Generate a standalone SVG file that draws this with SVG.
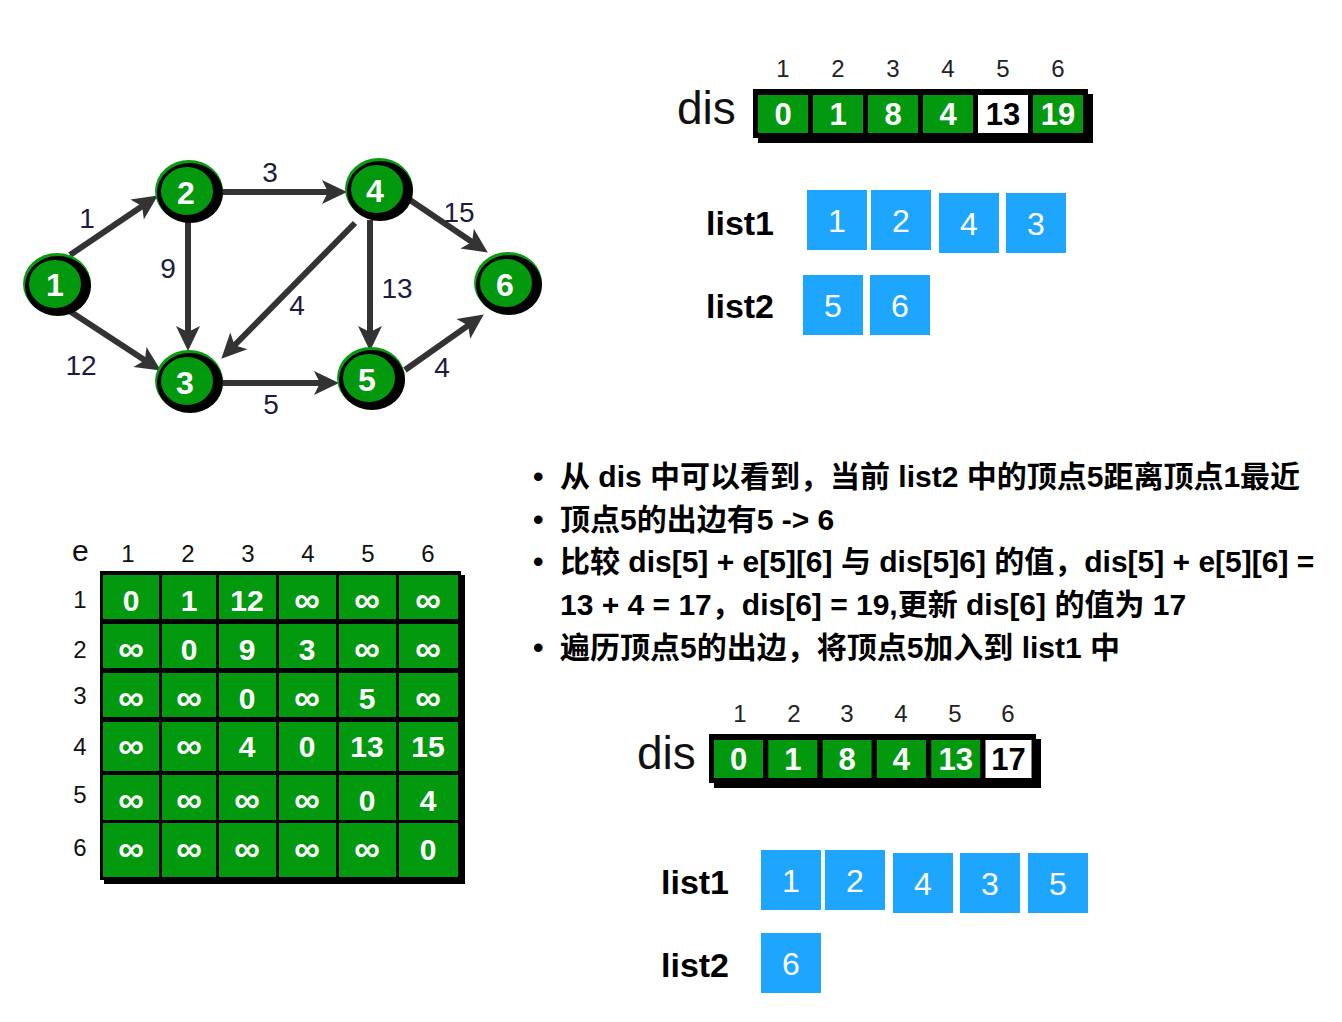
<svg xmlns="http://www.w3.org/2000/svg" width="1342" height="1022" viewBox="0 0 1342 1022">
<defs>
<marker id="arr" markerUnits="userSpaceOnUse" viewBox="-2 -14 30 28" markerWidth="30" markerHeight="28" refX="10" refY="0" orient="auto">
<path d="M0,-12 L25,0 L0,12 L6,0 z" fill="#333"/>
</marker>
</defs>
<style>
text{font-family:"Liberation Sans","Noto Sans CJK SC",sans-serif}
.edge{stroke:#333;stroke-width:6;fill:none;marker-end:url(#arr)}
.halo{fill:#0a9a10}
.ring{fill:#000}
.core{fill:#03990f}
.nl{fill:#fff;font-weight:bold;font-size:32px;text-anchor:middle}
.el{fill:#1c1c40;font-size:28px;text-anchor:middle}
.g{fill:#03990f}
.w{fill:#fff}
.cv{fill:#fff;font-weight:bold;font-size:31px;text-anchor:middle}
.cb{fill:#000;font-weight:bold;font-size:31px;text-anchor:middle}
.idx{fill:#222;font-size:24px;text-anchor:middle}
.dis{fill:#111;font-size:46px}
.lbl{fill:#000;font-weight:bold;font-size:34px}
.bx{fill:#1ea5fd}
.bn{fill:#fff;font-size:32px;text-anchor:middle}
.mv{fill:#fff;font-weight:bold;font-size:30px;text-anchor:middle}
.mi{fill:#fff;font-weight:bold;font-size:36px;text-anchor:middle}
.mh{fill:#111;font-size:24px;text-anchor:middle}
.tx{fill:#000;font-weight:bold;font-size:30px}
</style>

<g id="connectors">
<line class="edge" x1="70" y1="255" x2="145.4" y2="203.9"/>
<line class="edge" x1="68" y1="310" x2="148.3" y2="362.4"/>
<line class="edge" x1="188" y1="222" x2="188" y2="336"/>
<line class="edge" x1="223" y1="192" x2="332" y2="192"/>
<line class="edge" x1="355" y1="223" x2="231.8" y2="348"/>
<line class="edge" x1="223" y1="383" x2="324" y2="383"/>
<line class="edge" x1="370" y1="220" x2="370" y2="336"/>
<line class="edge" x1="410" y1="200" x2="475.4" y2="244.2"/>
<line class="edge" x1="405" y1="370" x2="471.5" y2="323.1"/>
<text class="el" x="87" y="228">1</text>
<text class="el" x="81" y="375">12</text>
<text class="el" x="168" y="278">9</text>
<text class="el" x="270" y="182">3</text>
<text class="el" x="297" y="315">4</text>
<text class="el" x="271" y="414">5</text>
<text class="el" x="397" y="298">13</text>
<text class="el" x="459" y="222">15</text>
<text class="el" x="442" y="377">4</text>
</g>

<g id="node1">
<ellipse class="halo" cx="57" cy="284" rx="34" ry="31"/>
<ellipse class="ring" cx="58" cy="286" rx="33" ry="30"/>
<ellipse class="core" cx="55" cy="284" rx="26" ry="24"/>
<text class="nl" x="55" y="296">1</text>
</g>
<g id="node2">
<ellipse class="halo" cx="189" cy="191" rx="34" ry="31"/>
<ellipse class="ring" cx="190" cy="193" rx="33" ry="30"/>
<ellipse class="core" cx="187" cy="191" rx="26" ry="24"/>
<text class="nl" x="186" y="204">2</text>
</g>
<g id="node3">
<ellipse class="halo" cx="189" cy="381" rx="34" ry="31"/>
<ellipse class="ring" cx="190" cy="383" rx="33" ry="30"/>
<ellipse class="core" cx="187" cy="381" rx="26" ry="24"/>
<text class="nl" x="185" y="394">3</text>
</g>
<g id="node4">
<ellipse class="halo" cx="379" cy="189" rx="34" ry="31"/>
<ellipse class="ring" cx="380" cy="191" rx="33" ry="30"/>
<ellipse class="core" cx="377" cy="189" rx="26" ry="24"/>
<text class="nl" x="375" y="202">4</text>
</g>
<g id="node5">
<ellipse class="halo" cx="371" cy="378" rx="34" ry="31"/>
<ellipse class="ring" cx="372" cy="380" rx="33" ry="30"/>
<ellipse class="core" cx="369" cy="378" rx="26" ry="24"/>
<text class="nl" x="367" y="391">5</text>
</g>
<g id="node6">
<ellipse class="halo" cx="508" cy="283" rx="34" ry="31"/>
<ellipse class="ring" cx="509" cy="285" rx="33" ry="30"/>
<ellipse class="core" cx="506" cy="283" rx="26" ry="24"/>
<text class="nl" x="505" y="296">6</text>
</g>

<g id="dis-top">
<text class="dis" x="677" y="124">dis</text>
<rect x="758" y="94" width="335" height="49" fill="#000"/>
<rect x="753" y="89" width="335" height="49" fill="#000"/>
<rect class="g" x="758" y="95" width="50" height="38"/>
<rect class="g" x="813" y="95" width="50" height="38"/>
<rect class="g" x="868" y="95" width="50" height="38"/>
<rect class="g" x="923" y="95" width="50" height="38"/>
<rect class="w" x="978" y="95" width="50" height="38"/>
<rect class="g" x="1033" y="95" width="50" height="38"/>
<text class="cv" x="783" y="125">0</text>
<text class="cv" x="838" y="125">1</text>
<text class="cv" x="893" y="125">8</text>
<text class="cv" x="948" y="125">4</text>
<text class="cb" x="1003" y="125">13</text>
<text class="cv" x="1058" y="125">19</text>
<text class="idx" x="783" y="77">1</text>
<text class="idx" x="838" y="77">2</text>
<text class="idx" x="893" y="77">3</text>
<text class="idx" x="948" y="77">4</text>
<text class="idx" x="1003" y="77">5</text>
<text class="idx" x="1058" y="77">6</text>
</g>

<g id="lists-top">
<text class="lbl" x="706" y="235">list1</text>
<text class="lbl" x="706" y="318">list2</text>
<rect class="bx" x="807" y="190" width="60" height="60"/>
<rect class="bx" x="871" y="190" width="60" height="60"/>
<rect class="bx" x="939" y="193" width="60" height="60"/>
<rect class="bx" x="1006" y="193" width="60" height="60"/>
<rect class="bx" x="803" y="275" width="60" height="60"/>
<rect class="bx" x="870" y="275" width="60" height="60"/>
<text class="bn" x="837" y="232">1</text>
<text class="bn" x="901" y="232">2</text>
<text class="bn" x="969" y="235">4</text>
<text class="bn" x="1036" y="235">3</text>
<text class="bn" x="833" y="317">5</text>
<text class="bn" x="900" y="317">6</text>
</g>

<g id="matrix">
<text fill="#111" font-size="30" x="72" y="561">e</text>
<text class="mh" x="128" y="562">1</text>
<text class="mh" x="188" y="562">2</text>
<text class="mh" x="248" y="562">3</text>
<text class="mh" x="308" y="562">4</text>
<text class="mh" x="368" y="562">5</text>
<text class="mh" x="428" y="562">6</text>
<text class="mh" x="80" y="608">1</text>
<text class="mh" x="80" y="658">2</text>
<text class="mh" x="80" y="704">3</text>
<text class="mh" x="80" y="755">4</text>
<text class="mh" x="80" y="803">5</text>
<text class="mh" x="80" y="856">6</text>
<rect x="104" y="575" width="361" height="309" fill="#000"/>
<rect x="100" y="571" width="361" height="309" fill="#000"/>
<g class="g">
<rect x="103" y="575" width="56" height="44"/><rect x="162" y="575" width="54" height="44"/><rect x="219" y="575" width="57" height="44"/><rect x="279" y="575" width="57" height="44"/><rect x="339" y="575" width="57" height="44"/><rect x="399" y="575" width="59" height="44"/>
<rect x="103" y="624" width="56" height="44"/><rect x="162" y="624" width="54" height="44"/><rect x="219" y="624" width="57" height="44"/><rect x="279" y="624" width="57" height="44"/><rect x="339" y="624" width="57" height="44"/><rect x="399" y="624" width="59" height="44"/>
<rect x="103" y="673" width="56" height="44"/><rect x="162" y="673" width="54" height="44"/><rect x="219" y="673" width="57" height="44"/><rect x="279" y="673" width="57" height="44"/><rect x="339" y="673" width="57" height="44"/><rect x="399" y="673" width="59" height="44"/>
<rect x="103" y="722" width="56" height="49"/><rect x="162" y="722" width="54" height="49"/><rect x="219" y="722" width="57" height="49"/><rect x="279" y="722" width="57" height="49"/><rect x="339" y="722" width="57" height="49"/><rect x="399" y="722" width="59" height="49"/>
<rect x="103" y="775" width="56" height="45"/><rect x="162" y="775" width="54" height="45"/><rect x="219" y="775" width="57" height="45"/><rect x="279" y="775" width="57" height="45"/><rect x="339" y="775" width="57" height="45"/><rect x="399" y="775" width="59" height="45"/>
<rect x="103" y="823" width="56" height="54"/><rect x="162" y="823" width="54" height="54"/><rect x="219" y="823" width="57" height="54"/><rect x="279" y="823" width="57" height="54"/><rect x="339" y="823" width="57" height="54"/><rect x="399" y="823" width="59" height="54"/>
</g>
<text class="mv" x="131" y="611">0</text><text class="mv" x="189" y="611">1</text><text class="mv" x="247" y="611">12</text><text class="mi" x="307" y="612">∞</text><text class="mi" x="367" y="612">∞</text><text class="mi" x="428" y="612">∞</text>
<text class="mi" x="131" y="661">∞</text><text class="mv" x="189" y="660">0</text><text class="mv" x="247" y="660">9</text><text class="mv" x="307" y="660">3</text><text class="mi" x="367" y="661">∞</text><text class="mi" x="428" y="661">∞</text>
<text class="mi" x="131" y="710">∞</text><text class="mi" x="189" y="710">∞</text><text class="mv" x="247" y="709">0</text><text class="mi" x="307" y="710">∞</text><text class="mv" x="367" y="709">5</text><text class="mi" x="428" y="710">∞</text>
<text class="mi" x="131" y="758">∞</text><text class="mi" x="189" y="758">∞</text><text class="mv" x="247" y="757">4</text><text class="mv" x="307" y="757">0</text><text class="mv" x="367" y="757">13</text><text class="mv" x="428" y="757">15</text>
<text class="mi" x="131" y="812">∞</text><text class="mi" x="189" y="812">∞</text><text class="mi" x="247" y="812">∞</text><text class="mi" x="307" y="812">∞</text><text class="mv" x="367" y="811">0</text><text class="mv" x="428" y="811">4</text>
<text class="mi" x="131" y="861">∞</text><text class="mi" x="189" y="861">∞</text><text class="mi" x="247" y="861">∞</text><text class="mi" x="307" y="861">∞</text><text class="mi" x="367" y="861">∞</text><text class="mv" x="428" y="860">0</text>
</g>

<g id="notes">
<text class="tx" x="533" y="487">•</text>
<text class="tx" x="560" y="487">从 dis 中可以看到，当前 list2 中的顶点5距离顶点1最近</text>
<text class="tx" x="533" y="530">•</text>
<text class="tx" x="560" y="530">顶点5的出边有5 -&gt; 6</text>
<text class="tx" x="533" y="572">•</text>
<text class="tx" x="560" y="572">比较 dis[5] + e[5][6] 与 dis[5]6] 的值，dis[5] + e[5][6] =</text>
<text class="tx" x="560" y="615">13 + 4 = 17，dis[6] = 19,更新 dis[6] 的值为 17</text>
<text class="tx" x="533" y="658">•</text>
<text class="tx" x="560" y="658">遍历顶点5的出边，将顶点5加入到 list1 中</text>
</g>

<g id="dis-bottom">
<text class="dis" x="637" y="769">dis</text>
<rect x="714" y="739" width="327" height="49" fill="#000"/>
<rect x="709" y="734" width="327" height="49" fill="#000"/>
<rect class="g" x="714" y="740" width="49" height="38"/>
<rect class="g" x="768.3" y="740" width="49" height="38"/>
<rect class="g" x="822.6" y="740" width="49" height="38"/>
<rect class="g" x="876.9" y="740" width="49" height="38"/>
<rect class="g" x="931.2" y="740" width="49" height="38"/>
<rect class="w" x="985.5" y="740" width="46" height="38"/>
<text class="cv" x="738.5" y="770">0</text>
<text class="cv" x="792.8" y="770">1</text>
<text class="cv" x="847.1" y="770">8</text>
<text class="cv" x="901.4" y="770">4</text>
<text class="cv" x="955.7" y="770">13</text>
<text class="cb" x="1008.5" y="770">17</text>
<text class="idx" x="740" y="722">1</text>
<text class="idx" x="794" y="722">2</text>
<text class="idx" x="847" y="722">3</text>
<text class="idx" x="901" y="722">4</text>
<text class="idx" x="955" y="722">5</text>
<text class="idx" x="1008" y="722">6</text>
</g>

<g id="lists-bottom">
<text class="lbl" x="661" y="894">list1</text>
<text class="lbl" x="661" y="977">list2</text>
<rect class="bx" x="761" y="850" width="60" height="60"/>
<rect class="bx" x="825" y="850" width="60" height="60"/>
<rect class="bx" x="893" y="853" width="60" height="60"/>
<rect class="bx" x="960" y="853" width="60" height="60"/>
<rect class="bx" x="1028" y="853" width="60" height="60"/>
<rect class="bx" x="761" y="933" width="60" height="60"/>
<text class="bn" x="791" y="892">1</text>
<text class="bn" x="855" y="892">2</text>
<text class="bn" x="923" y="895">4</text>
<text class="bn" x="990" y="895">3</text>
<text class="bn" x="1058" y="895">5</text>
<text class="bn" x="791" y="975">6</text>
</g>
</svg>
